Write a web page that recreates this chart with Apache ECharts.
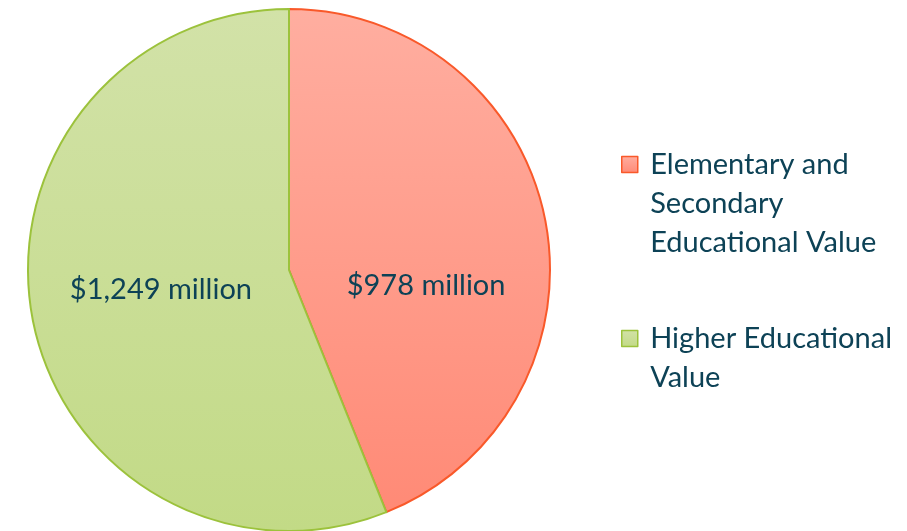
<!DOCTYPE html>
<html>
<head>
<meta charset="utf-8">
<script src="https://cdn.jsdelivr.net/npm/echarts@6/dist/echarts.min.js"></script>
<style>
  html, body { margin: 0; padding: 0; background: #ffffff; }
  #chart { width: 907px; height: 531px; }
</style>
</head>
<body>
<div id="chart"></div>
<script>
// Educational value split, in millions of dollars
const categories = ['Elementary and Secondary Educational Value', 'Higher Educational Value'];
const legendLines = [['Elementary and', 'Secondary', 'Educational Value'], ['Higher Educational', 'Value']];
const values = [978, 1249];
const valueLabels = ['$978 million', '$1,249 million'];

const textColor = '#0d4256';
const fontFamily = 'Lato, "Open Sans", sans-serif';

function vGrad(top, bottom) {
  return new echarts.graphic.LinearGradient(0, 0, 0, 1, [
    { offset: 0, color: top },
    { offset: 1, color: bottom }
  ], false);
}

const sliceStyles = [
  { fill: vGrad('#ffaea0', '#ff8a76'), border: '#f9592a', labelOffset: [6, 41] },
  { fill: vGrad('#d2e2a8', '#c2da86'), border: '#9cc23c', labelOffset: [3, -6] }
];

// The legend centres a multi-line text on its icon; leading blank lines
// push the first line of text level with the icon.
function legendText(name) {
  const lines = legendLines[categories.indexOf(name)];
  const lead = new Array(lines.length - 1).fill('');
  return lead.concat(lines.map(l => ' ' + l)).join('\n');
}

const chart = echarts.init(document.getElementById('chart'), null, { renderer: 'canvas' });

chart.setOption({
  backgroundColor: '#ffffff',
  animation: false,
  legend: {
    orient: 'vertical',
    left: 621,
    top: 67,
    padding: 0,
    itemWidth: 16,
    itemHeight: 16,
    itemGap: 18,
    selectedMode: false,
    icon: 'rect',
    formatter: legendText,
    textStyle: {
      color: textColor,
      fontFamily: fontFamily,
      fontSize: 29,
      lineHeight: 39
    },
    data: categories.map((name, i) => ({
      name: name,
      itemStyle: { borderColor: sliceStyles[i].border, borderWidth: 1.5 }
    }))
  },
  series: [{
    type: 'pie',
    center: [289, 270],
    radius: [0, 261],
    startAngle: 90,
    clockwise: true,
    avoidLabelOverlap: false,
    emphasis: { disabled: true },
    label: {
      show: true,
      position: 'inside',
      color: textColor,
      fontFamily: fontFamily,
      fontSize: 29
    },
    labelLine: { show: false },
    data: categories.map((name, i) => ({
      name: name,
      value: values[i],
      itemStyle: {
        color: sliceStyles[i].fill,
        borderColor: sliceStyles[i].border,
        borderWidth: 2
      },
      label: {
        formatter: valueLabels[i],
        offset: sliceStyles[i].labelOffset
      }
    }))
  }]
});
</script>
</body>
</html>
